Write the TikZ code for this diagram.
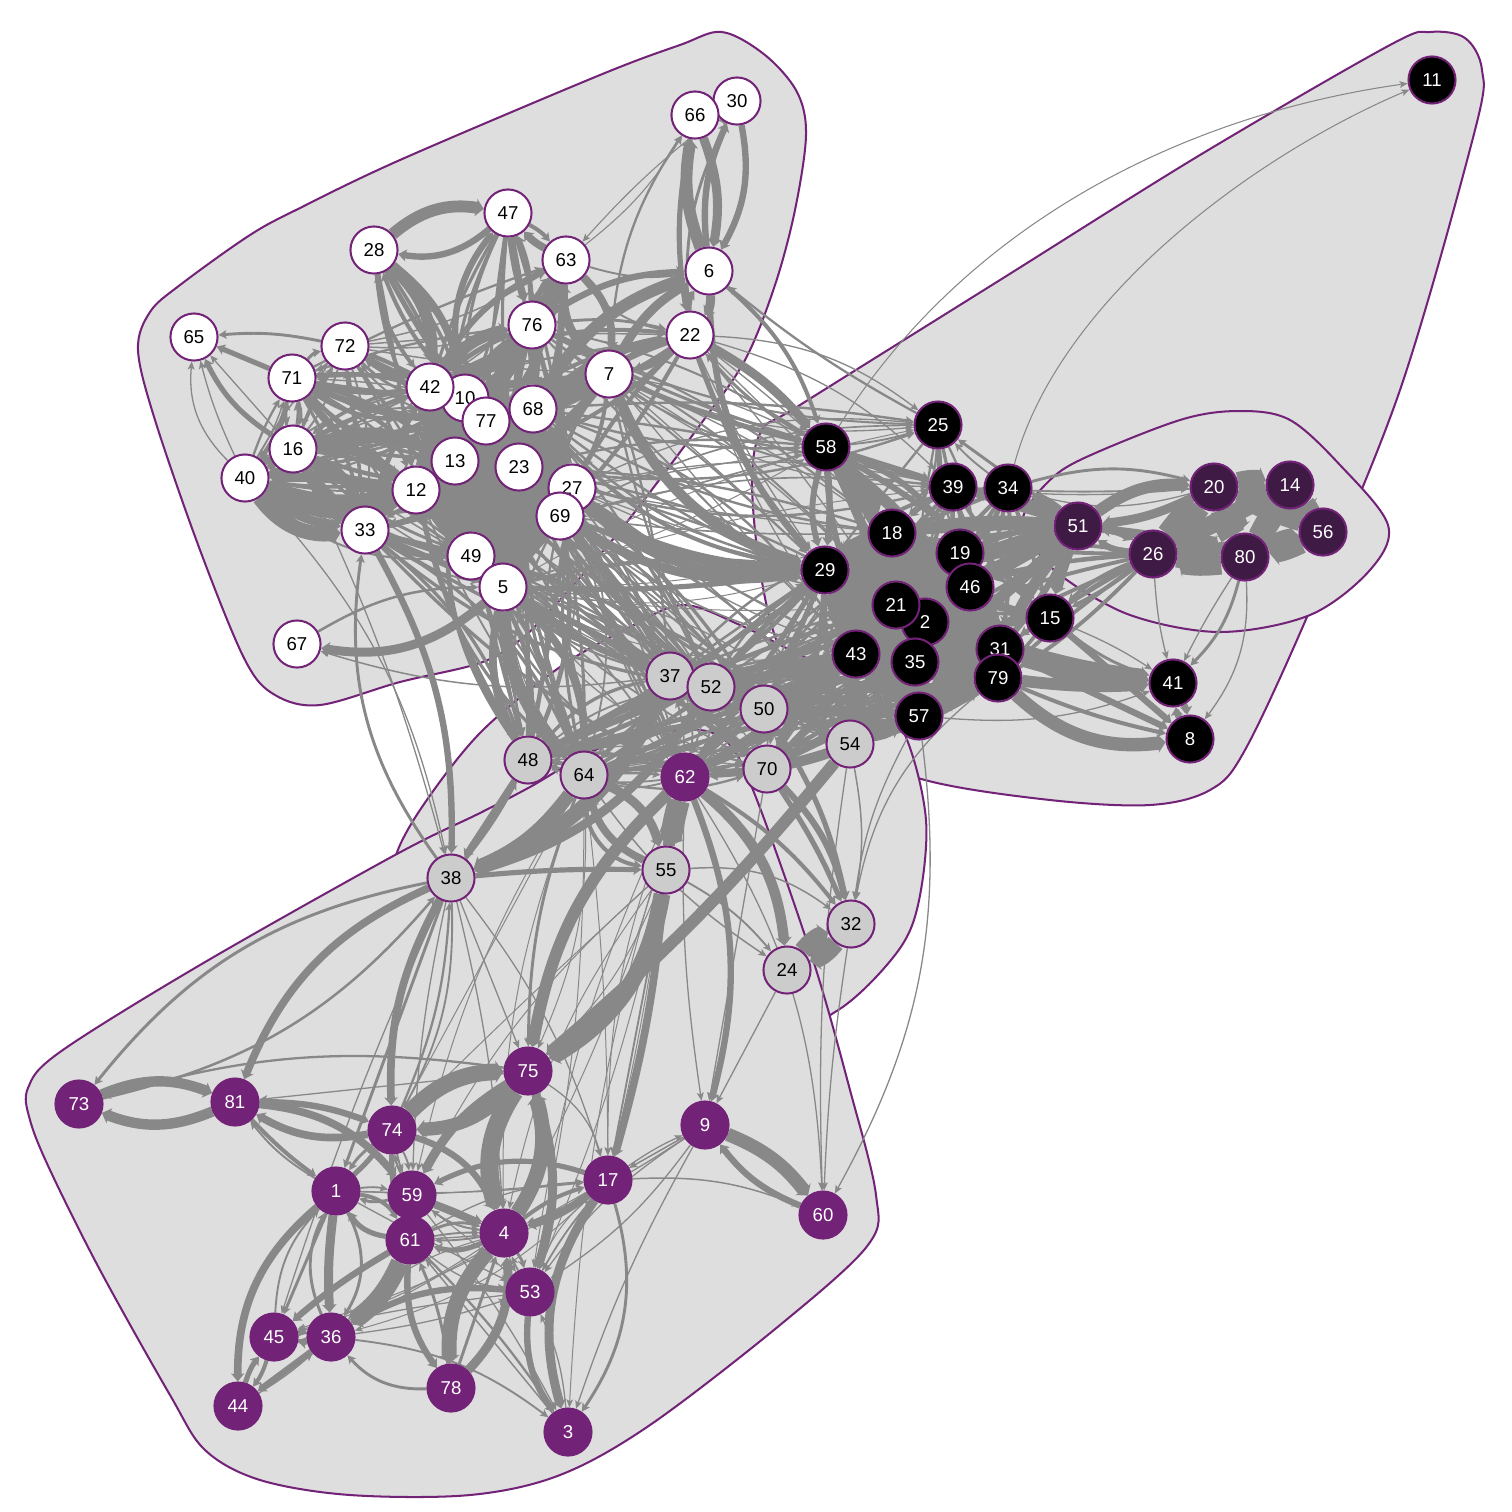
\documentclass[tikz,border=0pt]{standalone}
\usepackage{fontspec}
\setmainfont{Liberation Sans}
\usetikzlibrary{arrows.meta}
\pgfdeclarelayer{hulls}
\pgfdeclarelayer{links}
\pgfsetlayers{hulls,links,main}
\definecolor{hullfill}{HTML}{DEDEDE}
\definecolor{plum}{HTML}{722277}
\definecolor{darkplum}{HTML}{3F1A44}
\definecolor{linkgray}{HTML}{888888}
\definecolor{lightnode}{HTML}{CCCCCC}
\tikzset{
  hull/.style={fill=hullfill,draw=plum,line width=1.15pt},
  vertex/.style={circle,draw=plum,line width=1.15pt,minimum size=26.8pt,inner sep=0pt,font=\fontsize{10.6}{12}\selectfont},
  whitenode/.style={vertex,fill=white,text=black},
  graynode/.style={vertex,fill=lightnode,text=black},
  blacknode/.style={vertex,fill=black,text=white},
  darknode/.style={vertex,fill=darkplum,text=white},
  plumnode/.style={vertex,fill=plum,text=white},
  link/.style={draw=linkgray,-{Stealth[length=4.6pt,width=3.2pt 1.0,inset=1pt]}},
}
\newcommand\edgefan[4]{%
  \foreach \a in {#1}{\foreach \b in {#2}{%
    \ifnum\a=\b\relax\else
      \pgfmathtruncatemacro\bnd{mod(\a*7+\b*13,2*#4+1)-#4}%
      \pgfmathsetmacro\wd{max(0.55,#3*(0.6+0.2*mod(\a*3+\b*5,5)))}%
      \pgfmathsetmacro\lw{\wd*(1+0.07*\wd)}%
      \draw[link,line width=\lw pt] (\a) to[bend left=\bnd] (\b);%
    \fi}}}
\begin{document}
\begin{tikzpicture}[x=0.02cm,y=-0.02cm]
\useasboundingbox (0,0) rectangle (1512,1512);
\begin{pgfonlayer}{hulls}
\fill[white] (0,0) rectangle (1512,1512);
\draw[hull] plot[smooth cycle,tension=0.55] coordinates {(722,32)(765,55)(797,92)(806,135)(795,210)(775,285)(745,360)(700,425)(623,527)(560,600)(520,640)(480,663)(400,682)(320,705)(275,695)(245,660)(200,550)(155,420)(138,350)(150,312)(180,285)(250,235)(300,208)(400,160)(600,75)(680,45)};
\draw[hull] plot[smooth cycle,tension=0.55] coordinates {(1430,32)(1465,38)(1482,70)(1475,130)(1400,390)(1310,610)(1245,750)(1210,790)(1150,805)(1050,800)(925,780)(830,740)(780,650)(760,570)(752,480)(762,430)(800,405)(1000,280)(1200,155)(1390,45)};
\draw[hull] plot[smooth cycle,tension=0.55] coordinates {(1023,517)(1045,485)(1080,460)(1180,420)(1240,411)(1290,420)(1340,465)(1388,525)(1370,570)(1310,615)(1220,632)(1130,615)(1060,575)(1030,540)};
\draw[hull] plot[smooth cycle,tension=0.55] coordinates {(395,860)(420,810)(480,733)(560,667)(630,627)(683,605)(740,625)(800,655)(867,687)(905,735)(926,820)(918,905)(895,955)(835,1012)(750,1040)(500,950)(410,880)};
\draw[hull] plot[smooth cycle,tension=0.55] coordinates {(28,1088)(60,1052)(200,965)(395,855)(480,813)(530,787)(600,748)(680,730)(725,740)(755,795)(813,960)(850,1090)(876,1195)(868,1245)(780,1325)(650,1425)(560,1475)(470,1495)(350,1495)(260,1480)(205,1450)(170,1395)(100,1270)(50,1170)(30,1120)};
\end{pgfonlayer}
% nodes
\foreach \n/\x/\y in {30/737/101,66/695/115,47/508/213,63/566/260,28/374/250,6/709/271,76/532/325,22/690/335,65/194/337,72/345/346,7/609/374,71/292/378,10/465/398,42/430/387,77/486/421,68/533/409,16/293/449,13/455/461,23/519/467,40/245/478,27/572/488,12/416/490,69/560/516,33/365/530,49/471/556,5/503/587,67/297/644}
  \node[whitenode] (\n) at (\x,\y) {\n};
\foreach \n/\x/\y in {11/1432/80,25/938/425,58/826/447,39/953/487,34/1008/488,18/892/533,19/960/553,29/825/570,46/970/587,2/925/622,21/896/605,15/1050/618,31/1000/649,43/856/654,35/915/662,79/998/678,41/1173/683,57/919/716,8/1190/739}
  \node[blacknode] (\n) at (\x,\y) {\n};
\foreach \n/\x/\y in {20/1214/487,14/1290/485,51/1078/526,56/1323/532,26/1153/554,80/1245/557}
  \node[darknode] (\n) at (\x,\y) {\n};
\foreach \n/\x/\y in {37/670/676,52/711/687,50/764/709,54/850/744,48/528/760,70/767/769,64/584/775,55/666/870,38/451/878,32/851/924,24/787/970}
  \node[graynode] (\n) at (\x,\y) {\n};
\foreach \n/\x/\y in {62/685/777,75/528/1071,73/79/1104,81/235/1102,9/705/1125,74/392/1130,17/608/1180,1/336/1191,59/412/1195,61/410/1240,4/504/1233,60/823/1215,53/530/1292,45/274/1337,36/331/1337,78/451/1388,44/238/1406,3/568/1432}
  \node[plumnode] (\n) at (\x,\y) {\n};
\begin{pgfonlayer}{links}
% dense fans
\edgefan{29,18,21,2,43,35,46,19,31,79,57}{29,18,21,2,43,35,46,19,31,79,57}{5}{20}
\edgefan{39,34,25,58}{18,19,46,29,21,2,35,15,31}{2}{20}
\edgefan{51}{18,19,46,29,21,2,31,35,39,34,15}{4}{10}
\edgefan{18,19,46,29,21,2,31,35,39,34}{51}{2.5}{12}
\edgefan{26}{15,31,79,57,35,2,46,19,18,21}{1.6}{12}
\edgefan{15}{19,46,2,31,79,35,21,18,29,57,43}{3}{15}
\edgefan{37,52,50,54,70,62,48,64}{29,21,43,35,2,57,79,31,18,46}{1.6}{15}
\edgefan{29,21,43,35,57,79}{52,50,54,70,62}{2.5}{15}
\edgefan{54,50,70}{43,35,57,2,79}{4}{12}
\edgefan{37,52,50,70,62,48,64}{37,52,50,70,62,48,64}{1.2}{20}
\edgefan{5,49,69,27,23,12,33,13,77}{37,52,50,48,64,62,70,54}{1.2}{20}
\edgefan{69,27,23,68,7,5,22,76}{29,58,18,25,21,43,39}{0.9}{18}
\edgefan{37,52}{69,27,5,49,23,7,68}{1.5}{15}
\edgefan{48,64}{5,49,69,27,23,12,13}{1.6}{25}
\edgefan{13,12,23,77,10,49,5,69,27,68,42}{13,12,23,77,10,49,5,69,27,68,42}{6}{20}
\edgefan{72,71,16,40,33}{42,10,77,13,12,23,49,68}{1.8}{28}
\edgefan{42,10,77,13,12,23,49,68}{72,71,16,40,33}{1.3}{28}
\edgefan{72,71,16,40,33}{72,71,16,40,33}{1.3}{20}
\edgefan{76,63,47}{42,10,77,68,23,13,12,27}{2}{20}
\edgefan{7,22}{68,23,27,69,77,10,42,13}{2.5}{20}
\edgefan{28}{42,10,77,13,12,23}{1.3}{18}
\edgefan{72,71,42}{76,63,7,22}{1}{10}
\edgefan{40,16,33}{5,49,37}{0.7}{20}
\edgefan{64,55}{74,59,4,17,53,75}{0.5}{15}
\edgefan{62}{17,4,53,3}{0.6}{15}
\edgefan{59,61,1}{4,17,53}{0.6}{15}
\edgefan{4,17}{36,45,53}{0.6}{15}
% individually placed connectors
\foreach \a/\b/\c/\w in {
28/47/25/5,47/28/25/3,28/42/25/5,42/28/15/1.2,28/10/20/3.5,10/28/10/2,28/77/15/2.5,28/13/-15/2,
47/76/-5/3.5,76/47/-10/2.5,10/47/25/3,63/47/10/3.5,47/63/10/2,63/76/10/3,76/63/15/2.5,
76/42/15/6,42/76/20/5,76/77/-10/5,76/10/20/5,68/7/10/6,7/68/10/5,7/77/5/4,7/23/5/4,
63/7/25/3.5,7/63/25/4,63/68/-10/4,63/23/10/3,63/22/-20/1,63/6/-12/1,30/63/-5/0.6,63/66/-10/0.6,
6/66/15/5,66/6/15/4,6/30/15/3,30/6/20/3,30/66/30/1.5,66/22/-10/2.5,30/22/-15/1.5,7/66/15/1.2,
6/22/20/4,22/6/20/3,7/6/15/4,76/6/15/3,68/6/20/5,68/22/15/4,22/7/15/3,7/22/15/2,76/22/10/1.5,76/7/10/2,
6/58/15/2,25/6/5/1.2,22/58/10/4,58/22/10/1.5,6/29/-20/3,22/29/-10/2.5,76/58/-5/1.5,7/58/-5/2.5,7/29/-25/4.5,
27/29/-25/4,69/29/-20/4,69/29/-8/2.5,29/27/20/3,5/29/-5/2.5,29/5/-10/2,68/29/-20/2,23/29/-15/2.5,
58/25/-5/1,58/18/5/5,18/58/5/4,58/29/5/3,58/21/0/3,58/39/0/3,
72/65/-8/1.5,71/65/0/2.5,16/65/15/2.5,40/65/25/0.7,40/65/5/0.7,16/65/0/0.7,
71/16/15/1.5,16/71/15/1,40/71/-15/1.2,40/71/5/1.2,71/40/10/0.8,40/16/10/2,16/40/10/2,
40/33/-30/6,40/33/-15/4,33/40/-5/4.5,40/12/-15/5,40/12/-25/6,12/40/-5/4,16/33/-10/5,33/16/-25/4,16/12/-15/5,12/16/-20/4,16/13/20/4,71/12/-10/3.5,
73/81/22/4.5,81/73/22/4.5,38/81/-22/3.5,38/74/-15/3.5,74/38/-10/1.2,38/1/0/1.5,38/73/-20/1.5,73/38/-18/1.3,
38/45/-3/0.7,38/59/-5/0.7,38/75/0/0.7,38/4/5/0.7,38/17/10/0.7,38/74/15/1,75/73/-12/1.2,75/81/0/0.7,
81/59/22/3.5,74/81/20/3.5,81/74/10/3,81/1/-5/2,1/81/10/1,74/75/22/6.5,75/74/22/5.5,75/59/-15/4,
75/4/-25/7,4/75/-25/6,75/53/18/4,75/17/20/0.7,17/59/-22/2.5,17/4/10/3.5,4/17/10/2,59/4/0/3.5,4/59/15/1,74/4/25/3,
74/59/-5/1,74/59/10/1,59/74/10/1.2,74/61/-10/2.5,74/1/-10/1.5,1/74/-5/2.5,1/59/10/1,59/1/15/1.5,1/61/25/2,61/1/25/2.5,
61/36/15/7,61/45/-5/3,1/36/-5/4,36/1/25/1.5,1/36/30/1.5,1/45/0/1.5,45/1/20/1,1/44/-25/3.5,36/45/10/3,45/36/10/2.5,
45/44/10/2,44/45/10/2.5,36/44/0/3,44/36/-5/0.7,61/4/20/1.5,4/61/20/2.5,4/61/5/1,61/4/5/1,61/78/-20/3,78/61/-8/1.5,
4/78/-22/6,78/4/-25/4,78/4/0/1.5,53/36/-18/3,36/53/-5/0.7,78/36/25/1.5,53/45/-3/0.7,53/3/-20/3,3/53/-10/0.7,
17/3/-25/4,17/3/25/1.5,17/53/-5/0.8,53/17/5/0.8,4/53/10/1.5,53/4/5/1,9/60/15/5.5,60/9/15/3,17/60/12/0.8,
9/17/0/0.7,17/9/5/0.7,9/4/5/0.7,9/53/-10/0.7,9/53/10/0.7,9/3/-5/0.7,9/36/0/0.6,62/9/18/3,62/9/-5/0.7,62/24/22/4.5,
70/9/0/0.7,24/9/0/0.7,62/32/10/2,70/32/15/3,70/32/5/2.5,50/32/10/2.5,54/32/10/0.8,57/32/-10/0.7,79/32/-20/0.7,
55/32/20/0.8,55/24/10/1,64/24/-10/0.8,32/24/15/7,24/32/15/7,54/60/-5/0.7,57/60/18/0.7,32/60/-3/0.7,62/60/15/0.7,
61/3/5/1.2,59/3/5/0.7,36/3/15/1,3/61/0/0.8,62/55/-3/8,55/62/5/5,64/55/25/4,55/64/25/3.5,64/55/-40/2,
55/75/25/6.5,54/75/5/5,62/75/-18/5,55/17/5/3.5,62/17/0/1,64/75/-10/1.5,38/55/3/2.5,64/38/15/5.5,37/38/22/6,52/38/20/4,
48/38/0/3,38/48/-5/1.5,5/48/-20/3.5,5/64/-20/5,5/37/-8/3,5/64/25/3,33/38/15/3,38/33/22/1.5,5/67/25/4,67/5/15/1.3,
37/67/12/0.8,40/38/15/0.7,16/38/5/0.7,33/5/0/2,
20/14/12/7,14/20/12/7,14/56/5/7,56/14/5/5,56/80/8/8,80/56/8/7,80/26/8/10,26/80/8/10,20/26/6/8,26/20/6/8,
20/80/6/9,80/20/6/9,14/80/6/7,80/14/6/6,20/56/6/7,56/20/6/5,14/26/0/7,20/80/-10/7,26/20/-10/7,80/14/-6/7,56/20/-6/7,26/80/-12/6,
51/20/20/5,20/51/10/4,51/26/15/4,26/51/15/3,
51/80/5/3,80/51/0/2,26/14/0/2,26/56/0/3,56/26/5/3,20/34/15/0.7,34/20/15/1.5,20/39/5/0.7,39/20/-3/1,51/25/0/1.5,34/25/5/1,
15/41/-10/1.5,15/41/5/0.7,15/8/0/3,31/41/-5/8,79/41/-5/5,2/41/-5/3,79/8/-25/5.5,31/8/0/3,79/8/-5/2,41/8/10/3,8/41/10/3,
26/41/-5/0.7,80/41/15/1.5,80/41/-3/0.7,80/8/20/0.7,57/41/-12/0.7,26/15/5/2,15/26/5/1.5}
{ \pgfmathsetmacro\lw{\w*(1+0.07*\w)}
  \draw[link,line width=\lw pt] (\a) to[bend left=\c] (\b); }
\draw[link,line width=0.6pt] (58) to[out=58,in=188,looseness=0.9] (11);
\draw[link,line width=0.6pt] (34) to[out=75,in=203,looseness=0.8] (11);
\end{pgfonlayer}
\end{tikzpicture}
\end{document}
